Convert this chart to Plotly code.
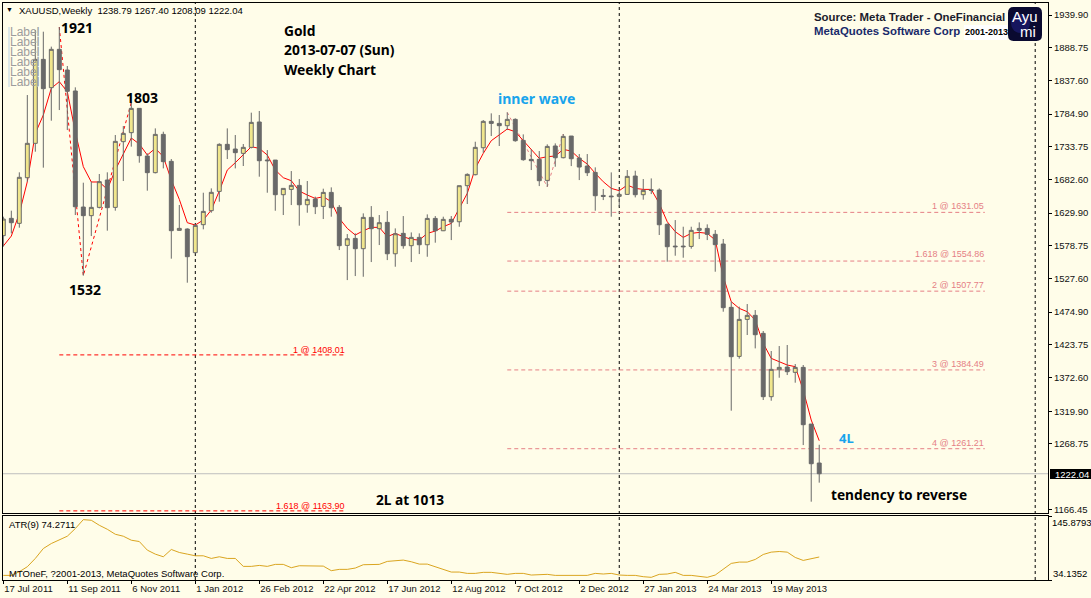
import plotly.graph_objects as go

WIDTH = 1091
HEIGHT = 598

# weekly bars, one per week from 17 Jul 2011
opens = [1594.6, 1621.7, 1613.9, 1685.3, 1739.1, 1870.5, 1826.2, 1886.2, 1853.8, 1821.0,
         1639.4, 1625.9, 1638.9, 1681.7, 1638.9, 1741.7, 1755.8, 1793.8, 1719.2, 1693.2,
         1753.1, 1710.9, 1602.9, 1605.0, 1568.0, 1611.8, 1633.7, 1663.9, 1737.5, 1730.2,
         1723.4, 1732.8, 1772.5, 1713.0, 1712.9, 1658.7, 1667.0, 1673.3, 1643.0, 1651.9,
         1640.4, 1662.3, 1638.9, 1579.4, 1590.3, 1574.2, 1623.2, 1605.5, 1615.4, 1566.3,
         1598.2, 1578.9, 1591.9, 1580.4, 1621.6, 1602.3, 1620.1, 1616.4, 1672.8, 1690.0,
         1732.2, 1773.5, 1770.3, 1766.7, 1776.6, 1743.7, 1714.0, 1714.0, 1681.1, 1734.9,
         1716.6, 1750.5, 1716.1, 1703.5, 1693.6, 1657.6, 1656.6, 1656.1, 1659.2, 1687.9,
         1658.7, 1666.5, 1666.0, 1612.3, 1578.3, 1578.3, 1577.8, 1602.9, 1606.0, 1596.7,
         1581.5, 1482.4, 1405.7, 1463.6, 1469.9, 1441.7, 1342.6, 1384.8, 1389.0, 1380.7,
         1388.5, 1299.8, 1238.79]
highs = [1624.3, 1633.7, 1693.7, 1814.7, 1916.4, 1913.8, 1890.4, 1921.0, 1860.1, 1826.7,
         1677.5, 1679.1, 1691.1, 1693.7, 1752.1, 1766.2, 1803.0, 1793.8, 1723.4, 1762.5,
         1757.3, 1714.5, 1642.6, 1606.0, 1612.8, 1661.8, 1668.6, 1739.1, 1762.5, 1752.1,
         1738.0, 1787.1, 1789.7, 1728.6, 1712.9, 1668.6, 1695.7, 1683.2, 1680.1, 1655.6,
         1668.1, 1670.2, 1642.5, 1597.1, 1598.2, 1629.5, 1640.9, 1626.9, 1633.1, 1606.0,
         1625.3, 1599.7, 1598.2, 1627.9, 1625.3, 1624.3, 1625.3, 1672.8, 1692.1, 1741.6,
         1775.5, 1786.0, 1783.4, 1787.5, 1778.2, 1753.1, 1729.6, 1727.0, 1737.5, 1739.0,
         1753.6, 1750.5, 1722.3, 1722.3, 1701.5, 1667.6, 1693.6, 1666.0, 1697.3, 1696.2,
         1683.2, 1684.2, 1668.6, 1613.8, 1619.0, 1608.6, 1608.6, 1615.4, 1612.3, 1603.4,
         1589.4, 1491.3, 1483.5, 1487.6, 1478.2, 1445.4, 1414.1, 1421.9, 1423.5, 1393.7,
         1392.2, 1299.8, 1267.40]
lows = [1577.3, 1598.2, 1607.1, 1679.1, 1726.0, 1701.0, 1774.5, 1791.2, 1759.9, 1626.9,
        1532.0, 1594.0, 1637.3, 1602.4, 1633.7, 1680.1, 1733.9, 1708.8, 1665.0, 1692.1,
        1699.9, 1558.6, 1602.4, 1521.0, 1566.9, 1604.5, 1630.5, 1647.8, 1714.5, 1699.9,
        1703.6, 1731.2, 1686.9, 1661.8, 1633.6, 1626.9, 1642.5, 1610.2, 1630.5, 1628.4,
        1620.6, 1624.3, 1572.1, 1525.1, 1531.4, 1530.3, 1553.3, 1579.9, 1556.4, 1546.0,
        1574.2, 1553.3, 1565.8, 1561.6, 1583.6, 1601.8, 1587.7, 1608.6, 1644.1, 1689.0,
        1724.4, 1750.5, 1734.9, 1759.9, 1741.6, 1711.9, 1697.3, 1672.2, 1671.2, 1702.5,
        1715.6, 1703.5, 1681.6, 1687.9, 1633.6, 1650.3, 1624.3, 1639.9, 1658.7, 1654.5,
        1650.9, 1659.7, 1595.6, 1553.8, 1563.2, 1560.1, 1574.2, 1589.3, 1587.7, 1538.2,
        1475.6, 1320.7, 1402.1, 1439.1, 1418.2, 1337.4, 1336.3, 1372.3, 1376.5, 1364.5,
        1266.9, 1178.3, 1208.09]
closes = [1620.6, 1614.9, 1685.9, 1739.1, 1870.5, 1824.6, 1886.2, 1854.4, 1820.5, 1639.9,
          1625.9, 1638.9, 1679.1, 1638.4, 1742.2, 1754.7, 1793.8, 1719.8, 1693.2, 1753.1,
          1710.4, 1602.4, 1606.0, 1561.7, 1610.7, 1632.6, 1662.4, 1737.5, 1729.2, 1724.5,
          1732.8, 1771.9, 1711.9, 1711.9, 1658.7, 1668.6, 1673.3, 1643.0, 1651.4, 1639.9,
          1662.3, 1638.3, 1578.9, 1589.8, 1574.2, 1623.2, 1605.5, 1614.9, 1566.3, 1597.6,
          1578.9, 1591.9, 1580.4, 1621.6, 1602.3, 1620.1, 1615.9, 1672.8, 1690.5, 1732.8,
          1773.5, 1770.3, 1766.7, 1776.6, 1743.2, 1713.5, 1711.9, 1680.6, 1734.3, 1716.6,
          1750.0, 1715.0, 1702.0, 1693.1, 1657.1, 1656.1, 1655.6, 1659.2, 1687.4, 1658.7,
          1665.5, 1665.5, 1611.7, 1577.3, 1577.3, 1577.3, 1602.9, 1606.0, 1596.6, 1580.5,
          1481.9, 1405.2, 1463.6, 1469.9, 1439.6, 1342.6, 1385.4, 1388.5, 1381.7, 1388.5,
          1298.8, 1237.7, 1222.04]

# red moving average over the candles
ma_line = [1578.4, 1594.0, 1629.5, 1679.1, 1754.7, 1783.4, 1825.2, 1835.6, 1819.9, 1757.3,
           1702.6, 1678.6, 1678.6, 1667.1, 1697.3, 1723.4, 1747.4, 1738.0, 1720.8, 1731.2,
           1718.2, 1681.7, 1651.4, 1614.9, 1611.2, 1619.1, 1634.7, 1664.5, 1697.3, 1708.8,
           1720.8, 1733.8, 1731.2, 1720.8, 1697.3, 1685.3, 1680.6, 1664.4, 1658.2, 1652.9,
           1655.6, 1647.7, 1621.6, 1606.0, 1595.6, 1602.3, 1607.6, 1607.6, 1593.0, 1598.2,
           1593.0, 1588.8, 1587.7, 1598.2, 1601.8, 1608.6, 1613.8, 1637.3, 1660.8, 1699.9,
           1723.4, 1743.2, 1752.1, 1761.5, 1757.3, 1743.2, 1728.6, 1715.6, 1718.2, 1719.2,
           1729.6, 1727.0, 1715.6, 1706.7, 1692.1, 1679.0, 1668.6, 1665.0, 1673.8, 1668.6,
           1667.0, 1667.0, 1645.1, 1616.4, 1600.8, 1591.9, 1598.2, 1599.7, 1598.2, 1587.8,
           1530.4, 1491.3, 1480.8, 1475.6, 1462.6, 1426.1, 1402.6, 1397.4, 1392.2, 1389.6,
           1353.0, 1306.1, 1273.7]

atr_values = [42.2, 42.2, 48.6, 57.3, 71.8, 89.1, 97.8, 104.8, 110.6, 123.9,
              139.5, 138.4, 129.7, 122.7, 114.0, 110.6, 103.6, 101.3, 86.3, 79.3,
              74.7, 87.4, 82.2, 79.3, 76.4, 76.4, 71.8, 74.7, 71.8, 71.8,
              57.9, 57.9, 59.6, 57.9, 61.4, 61.4, 55.6, 59.0, 59.0, 59.0,
              58.4, 50.4, 52.7, 52.7, 55.0, 60.8, 61.4, 61.4, 66.6, 67.7,
              68.9, 66.0, 61.9, 61.9, 57.3, 51.5, 48.0, 48.0, 45.7, 45.7,
              47.5, 47.5, 45.7, 44.0, 45.7, 45.7, 42.8, 44.0, 44.0, 42.2,
              42.2, 42.2, 42.2, 42.2, 45.7, 44.6, 45.7, 42.8, 42.2, 42.2,
              39.9, 38.8, 44.0, 44.6, 47.5, 42.2, 42.2, 40.5, 38.8, 42.8,
              53.2, 63.1, 65.4, 65.4, 70.0, 78.7, 82.8, 83.9, 82.8, 73.5,
              68.3, 71.8, 74.27]

bars = list(range(len(closes)))

date_ticks = [0, 8, 16, 24, 32, 40, 48, 56, 64, 72, 80, 88, 96]
date_labels = ['17 Jul 2011', '11 Sep 2011', '6 Nov 2011', '1 Jan 2012', '26 Feb 2012', '22 Apr 2012',
               '17 Jun 2012', '12 Aug 2012', '7 Oct 2012', '2 Dec 2012', '27 Jan 2013', '24 Mar 2013',
               '19 May 2013']
price_ticks = [1939.90, 1888.75, 1837.60, 1784.90, 1733.75, 1682.60, 1629.90, 1578.75,
               1527.60, 1474.90, 1423.75, 1372.60, 1319.90, 1268.75, 1166.45]
last_price = 1222.04
atr_min = 34.1352
atr_max = 145.8793
period_breaks = [24, 77, 129]

# fibonacci levels: start bar, end bar, value, label
pink_levels = [1631.05, 1554.86, 1507.77, 1384.49, 1261.21]
pink_labels = ['1 @ 1631.05', '1.618 @ 1554.86', '2 @ 1507.77', '3 @ 1384.49', '4 @ 1261.21']
pink_span = [63, 122.7]
red_levels = [1408.01, 1163.90]
red_labels = ['1 @ 1408.01', '1.618 @ 1163.90']
red_span = [7, 42.6]

zigzag_x = [7, 10, 16]
zigzag_y = [1921, 1532, 1803]
inner_x = [63, 68, 70]
inner_y = [1787.5, 1671.2, 1753.6]

BG = '#FFFDE9'
GRAY = '#696969'
KHAKI = '#F0E68C'
PINK = '#E57F85'
BLUE = '#18A4EC'
TICK_FONT = dict(family='Liberation Sans', size=9.5, color='#111111')


def px(x, y):
    return x / WIDTH, 1 - y / HEIGHT


def note(text, x, y, size=9.5, color='black', family='Liberation Sans', anchor='left', bg=None):
    xp, yp = px(x, y)
    return dict(text=text, x=xp, y=yp, xref='paper', yref='paper', xanchor=anchor, yanchor='middle',
                showarrow=False, bgcolor=bg, borderpad=0, font=dict(family=family, size=size, color=color))


fig = go.Figure()

# everything on the base axes stays behind the candles
for level in pink_levels:
    fig.add_trace(go.Scatter(x=pink_span, y=[level, level], mode='lines', xaxis='x2', yaxis='y',
                             line=dict(color=PINK, width=1, dash='4px,3px')))
for level in red_levels:
    fig.add_trace(go.Scatter(x=red_span, y=[level, level], mode='lines', xaxis='x2', yaxis='y',
                             line=dict(color='#FF0000', width=1, dash='4px,3px')))
fig.add_trace(go.Scatter(x=[-1, 140], y=[last_price, last_price], mode='lines', xaxis='x2', yaxis='y',
                         line=dict(color='#BEBEBE', width=1)))
fig.add_trace(go.Scatter(x=zigzag_x, y=zigzag_y, mode='lines', xaxis='x2', yaxis='y',
                         line=dict(color='#FF0000', width=1, dash='3px,3px')))
fig.add_trace(go.Scatter(x=inner_x, y=inner_y, mode='lines', xaxis='x2', yaxis='y',
                         line=dict(color=PINK, width=1, dash='3px,3px')))
fig.add_trace(go.Scatter(x=bars, y=ma_line, mode='lines', xaxis='x2', yaxis='y',
                         line=dict(color='#FF0000', width=1)))

fig.add_trace(go.Candlestick(x=bars, open=opens, high=highs, low=lows, close=closes,
                             xaxis='x2', yaxis='y3', whiskerwidth=0,
                             increasing=dict(fillcolor=KHAKI, line=dict(color=GRAY, width=1)),
                             decreasing=dict(fillcolor=GRAY, line=dict(color=GRAY, width=1))))

fig.add_trace(go.Scatter(x=bars, y=atr_values, mode='lines', xaxis='x', yaxis='y2',
                         line=dict(color='#DAA520', width=1)))

x_range = [-0.04, 130.6]
price_range = [1160.6, 1958.7]
x_domain = [3 / WIDTH, 1048 / WIDTH]

fig.update_layout(
    width=WIDTH,
    height=HEIGHT,
    margin=dict(l=0, r=0, t=0, b=0),
    autosize=False,
    showlegend=False,
    paper_bgcolor=BG,
    plot_bgcolor=BG,
    xaxis=dict(domain=x_domain, anchor='y2', range=x_range, tickmode='array', tickvals=date_ticks,
               ticktext=date_labels, ticks='outside', ticklen=3, tickcolor='black', tickfont=TICK_FONT,
               ticklabelposition='outside right', tickangle=0, automargin=False, showgrid=False, zeroline=False,
               showline=True, linecolor='black', mirror=True),
    xaxis2=dict(domain=x_domain, anchor='y', range=x_range, showticklabels=False, ticks='', showgrid=False,
                zeroline=False, showline=True, linecolor='black', mirror=True, automargin=False,
                rangeslider=dict(visible=False)),
    yaxis=dict(domain=[1 - 513 / HEIGHT, 1 - 3 / HEIGHT], anchor='x2', side='right', range=price_range,
               tickmode='array', tickvals=price_ticks, ticktext=['%.2f' % p for p in price_ticks],
               ticks='outside', ticklen=3, tickcolor='black', tickfont=TICK_FONT, showgrid=False, automargin=False,
               zeroline=False, showline=True, linecolor='black', mirror=True),
    yaxis2=dict(domain=[1 - 580 / HEIGHT, 1 - 516 / HEIGHT], anchor='x', side='right', range=[atr_min, atr_max],
                tickmode='array', tickvals=[atr_min, atr_max], showticklabels=False, ticks='outside', ticklen=3,
                automargin=False, tickcolor='black', showgrid=False, zeroline=False, showline=True,
                linecolor='black', mirror=True),
    yaxis3=dict(overlaying='y', anchor='x2', side='right', range=price_range, visible=False),
)

# period separators run through both panels, under the marks
for bar in period_breaks:
    fig.add_shape(type='line', layer='below', xref='x', yref='paper', x0=bar, x1=bar,
                  y0=1 - 580 / HEIGHT, y1=1 - 3 / HEIGHT, line=dict(color='black', width=1, dash='3px,3px'))

# price tag on the right
fig.add_shape(type='rect', xref='paper', yref='paper', x0=1050 / WIDTH, x1=1,
              y0=1 - 479 / HEIGHT, y1=1 - 469 / HEIGHT, fillcolor='black', line=dict(width=0))

# logo and source box
logo_l, logo_t = px(1008, 7)
logo_r, logo_b = px(1042, 41)
fig.add_shape(type='path', xref='paper', yref='paper', fillcolor='#0A0A30', line=dict(width=0),
              path=f'M {logo_l + 0.005} {logo_t} L {logo_r - 0.005} {logo_t} Q {logo_r} {logo_t} {logo_r} {logo_t - 0.01} '
                   f'L {logo_r} {logo_b + 0.01} Q {logo_r} {logo_b} {logo_r - 0.005} {logo_b} '
                   f'L {logo_l + 0.005} {logo_b} Q {logo_l} {logo_b} {logo_l} {logo_b + 0.01} '
                   f'L {logo_l} {logo_t - 0.01} Q {logo_l} {logo_t} {logo_l + 0.005} {logo_t} Z')
fig.add_shape(type='circle', xref='paper', yref='paper', x0=1011 / WIDTH, x1=1030 / WIDTH,
              y0=1 - 33 / HEIGHT, y1=1 - 14 / HEIGHT, fillcolor='#16165E', line=dict(width=0))
fig.add_shape(type='rect', xref='paper', yref='paper', x0=964 / WIDTH, x1=1007 / WIDTH,
              y0=1 - 40 / HEIGHT, y1=1 - 25 / HEIGHT, fillcolor='white', line=dict(width=0))

# the stray label objects at top left
for lx in [9, 38]:
    fig.add_shape(type='line', xref='paper', yref='paper', x0=lx / WIDTH, x1=lx / WIDTH,
                  y0=1 - 87 / HEIGHT, y1=1 - 27 / HEIGHT, line=dict(color='#BBD5E6', width=1))

notes = [
    note('\u25bc', 5, 10, size=7),
    note('XAUUSD,Weekly  1238.79 1267.40 1208.09 1222.04', 18, 11, size=9.5),
    note('<b>1921</b>', 60, 28, size=14, family='Noto Sans'),
    note('<b>1803</b>', 125, 97, size=14, family='Noto Sans'),
    note('<b>1532</b>', 68, 289, size=14, family='Noto Sans'),
    note('<b>Gold</b>', 283, 31, size=13.8, family='Noto Sans'),
    note('<b>2013-07-07 (Sun)</b>', 283, 50, size=13.8, family='Noto Sans'),
    note('<b>Weekly Chart</b>', 283, 69, size=13.8, family='Noto Sans'),
    note('<b>inner wave</b>', 497, 98, size=14, color=BLUE, family='Noto Sans'),
    note('<b>4L</b>', 838, 438, size=13, color=BLUE, family='Noto Sans'),
    note('<b>tendency to reverse</b>', 830, 494, size=13.7, family='Noto Sans'),
    note('<b>2L at 1013</b>', 375, 499, size=13.7, family='Noto Sans'),
    note('<b>Source: Meta Trader - OneFinancial</b>', 813, 17, size=11.4, color='#1C1C2C'),
    note('<b>MetaQuotes Software Corp</b>', 813, 31, size=11.4, color='#1A2A6A'),
    note('<b>2001-2013</b>', 964, 32, size=9),
    note('Ayu', 1025, 17, size=15, color='white', anchor='center'),
    note('mi', 1028, 32, size=15, color='white', anchor='center'),
    note('ATR(9) 74.2711', 8, 524),
    note('MTOneF, ?2001-2013, MetaQuotes Software Corp.', 8, 573),
    note('145.8793', 1051, 522),
    note('34.1352', 1052, 573),
    note('1222.04', 1054, 474, color='white'),
]
for row in range(6):
    notes.append(note('Label', 9, 32 + row * 10, size=12, color='#9C9C9C'))
for text, value_y in zip(pink_labels, [206, 254, 285, 364, 443]):
    notes.append(note(text, 985, value_y, size=9, color=PINK, anchor='right'))
notes.append(note(red_labels[0], 345.5, 350, size=9, color='#FF0000', anchor='right'))
notes.append(note(red_labels[1], 345.5, 506, size=9, color='#FF0000', anchor='right'))
fig.update_layout(annotations=notes)

fig.write_html("out.html", config={'displayModeBar': False}, post_script="document.body.style.margin='0';")
